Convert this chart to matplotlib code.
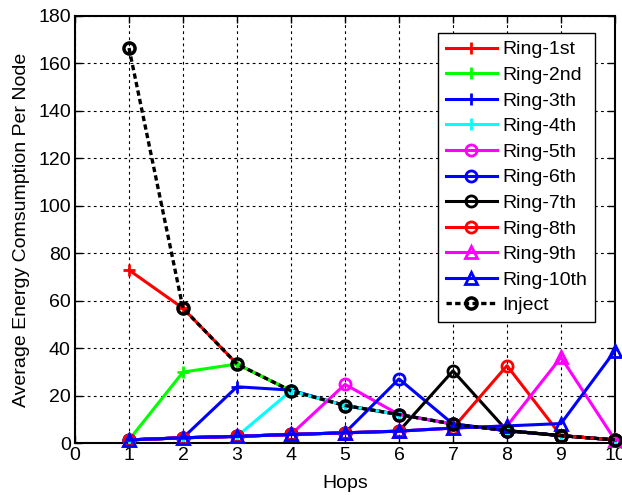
import matplotlib
matplotlib.use("Agg")
import matplotlib.pyplot as plt

plt.rcParams['font.family'] = ['Liberation Sans', 'DejaVu Sans']

hops = [1, 2, 3, 4, 5, 6, 7, 8, 9, 10]

ring_1st = [72.9, 56.8, 33.3, 22.0, 15.8, 12.0, 8.0, 5.2, 3.1, 1.3]
ring_2nd = [1.3, 29.9, 33.3, 22.0, 15.8, 12.0, 8.0, 5.2, 3.1, 1.3]
ring_3th = [1.3, 2.2, 23.7, 22.3, 15.8, 12.0, 8.0, 5.2, 3.1, 1.3]
ring_4th = [1.3, 2.2, 2.8, 22.0, 15.8, 12.0, 8.0, 5.2, 3.1, 1.3]
ring_5th = [1.3, 2.2, 2.8, 3.6, 24.7, 12.0, 8.0, 5.2, 3.1, 1.3]
ring_6th = [1.3, 2.2, 2.8, 3.6, 4.3, 27.0, 8.0, 5.2, 3.1, 1.3]
ring_7th = [1.3, 2.2, 2.8, 3.6, 4.3, 5.0, 30.4, 5.2, 3.1, 1.3]
ring_8th = [1.3, 2.2, 2.8, 3.6, 4.3, 5.0, 6.3, 32.6, 3.1, 1.3]
ring_9th = [1.3, 2.2, 2.8, 3.6, 4.3, 5.0, 6.3, 7.2, 36.1, 1.3]
ring_10th = [1.3, 2.2, 2.8, 3.6, 4.3, 5.0, 6.3, 7.2, 8.2, 38.9]
inject = [166.5, 56.8, 33.3, 22.0, 15.8, 12.0, 8.0, 5.2, 3.1, 1.3]

series_labels = ['Ring-1st', 'Ring-2nd', 'Ring-3th', 'Ring-4th', 'Ring-5th',
                 'Ring-6th', 'Ring-7th', 'Ring-8th', 'Ring-9th', 'Ring-10th']
series_values = [ring_1st, ring_2nd, ring_3th, ring_4th, ring_5th,
                 ring_6th, ring_7th, ring_8th, ring_9th, ring_10th]
series_colors = ['#ff0000', '#00ff00', '#0000ff', '#00ffff', '#ff00ff',
                 '#0000ff', '#000000', '#ff0000', '#ff00ff', '#0000ff']
series_markers = ['+', '+', '+', '+', 'o', 'o', 'o', 'o', '^', '^']

x_ticks = [0, 1, 2, 3, 4, 5, 6, 7, 8, 9, 10]
y_ticks = [0, 20, 40, 60, 80, 100, 120, 140, 160, 180]

FS = 14

fig = plt.figure(figsize=(6.22, 4.95), dpi=100)
ax = fig.add_axes([75 / 622, 1 - 443 / 495, 540 / 622, 427 / 495])

for vals, lab, col, mk in zip(series_values, series_labels, series_colors, series_markers):
    ms = 8 if mk == '+' else (9 if mk == '^' else 8)
    ax.plot(hops, vals, color=col, marker=mk, markersize=ms, markerfacecolor='none',
            markeredgecolor=col, markeredgewidth=2, linewidth=2.2, label=lab,
            clip_on=False, zorder=3)

ax.plot(hops, inject, color='black', linestyle=(0, (1.6, 1.0)), marker='o', markersize=8,
        markerfacecolor='none', markeredgewidth=2.5, linewidth=2.4, label='Inject',
        clip_on=False, zorder=4)

ax.set_xlim(0, 10)
ax.set_ylim(0, 180)
ax.set_xticks(x_ticks)
ax.set_yticks(y_ticks)
ax.tick_params(direction='in', top=True, right=True, labelsize=FS, length=5, width=1,
               pad=3)
ax.grid(True, color='black', linestyle=(0, (2.5, 3.0)), linewidth=0.8)
ax.set_axisbelow(True)
for sp in ax.spines.values():
    sp.set_linewidth(1.5)

ax.set_xlabel('Hops', fontsize=FS, labelpad=8)
ax.set_ylabel('Average Energy Comsumption Per Node', fontsize=FS, labelpad=6)

leg = ax.legend(loc='upper right', bbox_to_anchor=(0.963, 0.960), fontsize=FS,
                handlelength=2.6, labelspacing=0.41, borderpad=0.4, handletextpad=0.3,
                fancybox=False, framealpha=1, edgecolor='black', borderaxespad=0)
leg.get_frame().set_linewidth(1.0)
leg.set_zorder(10)

fig.savefig('out.png', dpi=100)
